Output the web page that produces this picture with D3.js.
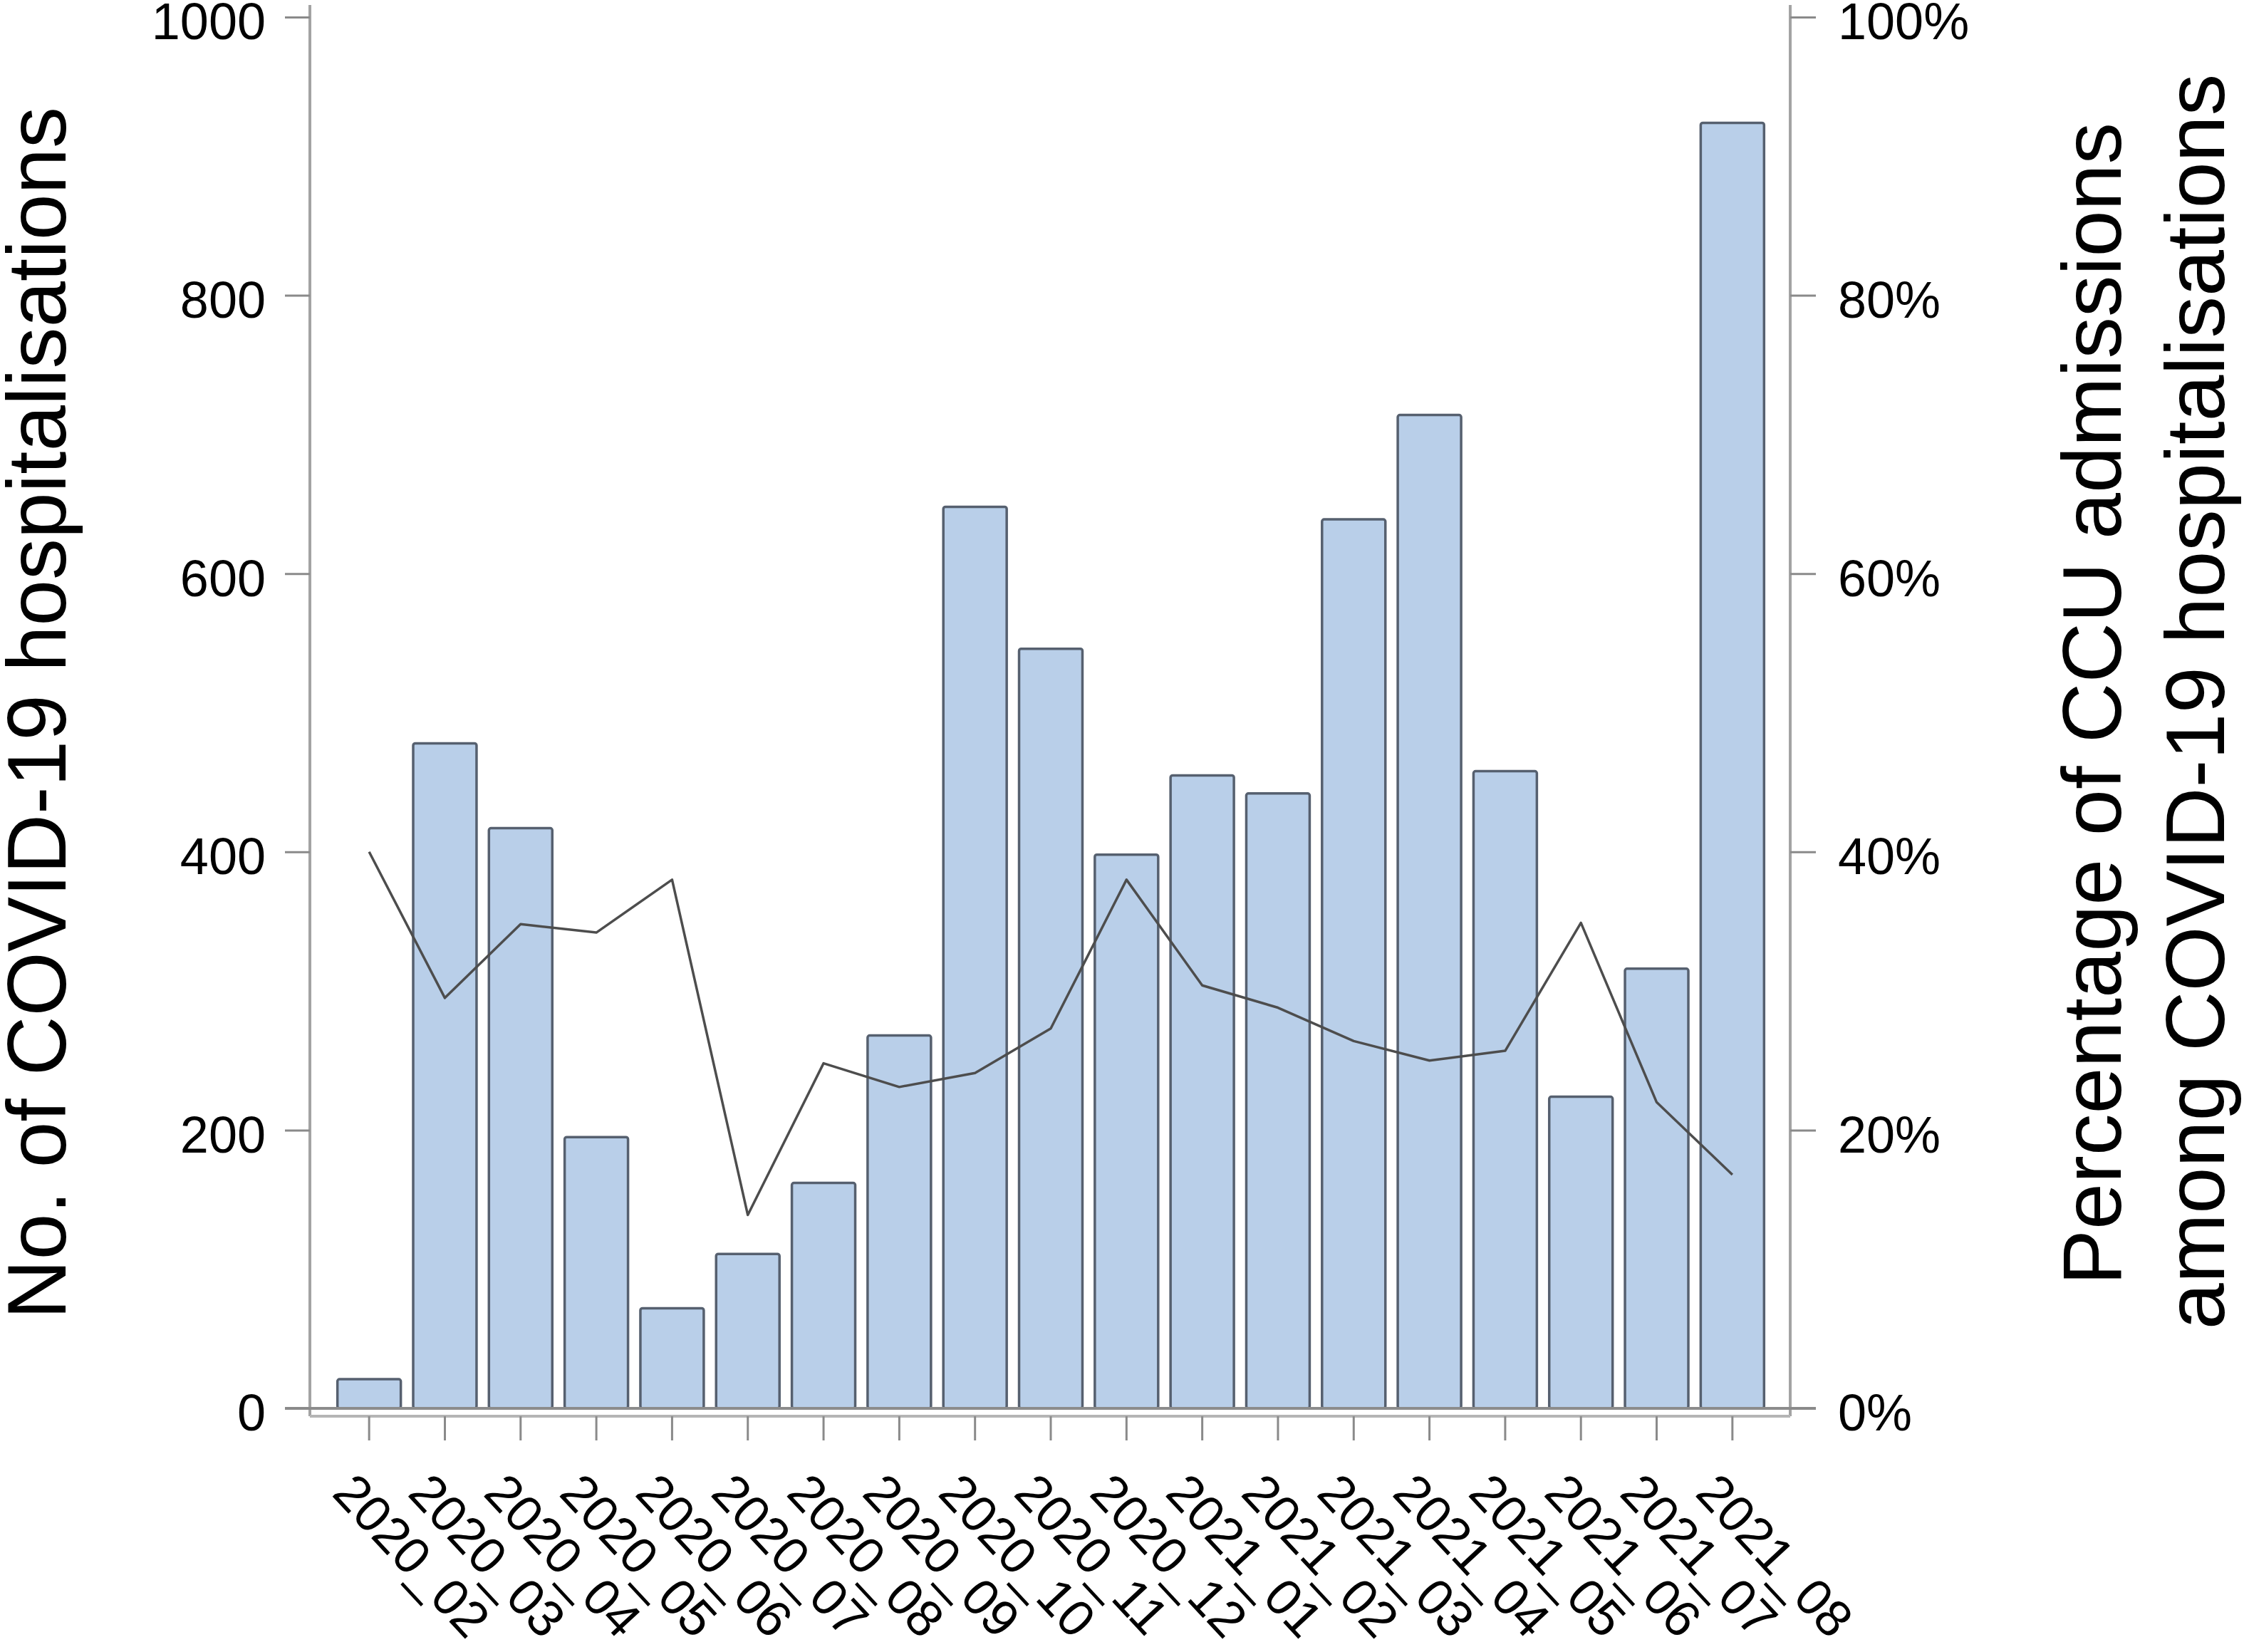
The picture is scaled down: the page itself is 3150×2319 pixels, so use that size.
<!DOCTYPE html>
<html>
<head>
<meta charset="utf-8">
<script src="https://cdn.jsdelivr.net/npm/d3@7"></script>
<style>
    body { margin: 0; background: #fff; }
    svg { display: block; font-family: 'Liberation Sans', Arial, sans-serif; }
</style>
</head>
<body>
<div id="chart"></div>
<script>
// months on the x-axis
const months = [
    '2020_02', '2020_03', '2020_04', '2020_05', '2020_06', '2020_07', '2020_08',
    '2020_09', '2020_10', '2020_11', '2020_12', '2021_01', '2021_02', '2021_03',
    '2021_04', '2021_05', '2021_06', '2021_07', '2021_08'
];
// bars: no. of COVID-19 hospitalisations
const hospitalisations = [21, 478, 417, 195, 72, 111, 162, 268, 648, 546, 398, 455, 442, 639, 714, 458, 224, 316, 924];
// line: % CCU admissions among hospitalisations
const ccuPct = [40.0, 29.5, 34.8, 34.2, 38.0, 13.9, 24.8, 23.1, 24.1, 27.3, 38.0, 30.4, 28.8, 26.4, 25.0, 25.7, 34.9, 22.0, 16.8];

const leftTicks = [0, 200, 400, 600, 800, 1000];
const rightTicks = [0, 20, 40, 60, 80, 100];

const W = 3150;
const H = 2319;

const svg = d3.select('#chart').append('svg').attr('width', W).attr('height', H);
svg.append('rect').attr('width', W).attr('height', H).attr('fill', '#fff');

// plot frame
const left = 435;
const right = 2513;
const frameBottom = 1988;

const x = d3
    .scaleBand()
    .domain(months)
    .range([465, 2485])
    .paddingInner(0.135)
    .paddingOuter(0.0675);

const y = d3.scaleLinear().domain([0, 1000]).range([1977, 24]);
const yR = d3.scaleLinear().domain([0, 100]).range([1977, 24]);

const axisColor = '#a3a3a3';
const tickColor = '#8a8a8a';

// axis lines
svg.append('line')
    .attr('x1', left).attr('x2', left)
    .attr('y1', 7).attr('y2', frameBottom)
    .attr('stroke', axisColor).attr('stroke-width', 4);
svg.append('line')
    .attr('x1', right).attr('x2', right)
    .attr('y1', 7).attr('y2', frameBottom)
    .attr('stroke', axisColor).attr('stroke-width', 4);
svg.append('line')
    .attr('x1', left).attr('x2', right)
    .attr('y1', frameBottom).attr('y2', frameBottom)
    .attr('stroke', '#b5b5b5').attr('stroke-width', 4);

// bars
svg.selectAll('rect.bar')
    .data(months)
    .enter()
    .append('rect')
    .attr('class', 'bar')
    .attr('x', (d) => x(d) + 1.5)
    .attr('y', (d, i) => y(hospitalisations[i]))
    .attr('width', x.bandwidth() - 3)
    .attr('height', (d, i) => y(0) - y(hospitalisations[i]))
    .attr('rx', 3)
    .attr('fill', '#b9cfe9')
    .attr('stroke', '#56606f')
    .attr('stroke-width', 3.5);

// zero line, runs out into both 0 ticks
svg.append('line')
    .attr('x1', left - 35).attr('x2', right + 36)
    .attr('y1', y(0)).attr('y2', y(0))
    .attr('stroke', '#8c8c8c').attr('stroke-width', 4);

// left y-axis
const yAxis = d3
    .axisLeft(y)
    .tickValues(leftTicks)
    .tickFormat(d3.format('d'))
    .tickSize(35)
    .tickPadding(27);
const gy = svg.append('g').attr('transform', `translate(${left}, 0)`).call(yAxis);

// right y-axis
const yAxisR = d3
    .axisRight(yR)
    .tickValues(rightTicks)
    .tickFormat((d) => d + '%')
    .tickSize(36)
    .tickPadding(31);
const gyR = svg.append('g').attr('transform', `translate(${right}, 0)`).call(yAxisR);

// x-axis with slanted month labels
const xAxis = d3.axisBottom(x).tickSize(34);
const gx = svg.append('g').attr('transform', `translate(0, ${frameBottom})`).call(xAxis);
gx.selectAll('text')
    .attr('x', 0)
    .attr('y', 0)
    .attr('dy', 0)
    .attr('transform', 'translate(-54, 110) rotate(47)')
    .style('text-anchor', 'start')
    .style('font-size', '72px');

[gy, gyR, gx].forEach((g) => {
    g.select('.domain').remove();
    g.selectAll('.tick line').attr('stroke', tickColor).attr('stroke-width', 3);
    g.selectAll('text').attr('fill', '#000').style('font-family', "'Liberation Sans', Arial, sans-serif");
});
gy.selectAll('text').attr('dy', '0.43em').style('font-size', '72px');
gyR.selectAll('text').attr('dy', '0.43em').style('font-size', '72px');

// CCU percentage line
const line = d3
    .line()
    .x((d) => x(d) + x.bandwidth() / 2)
    .y((d, i) => yR(ccuPct[i]));

svg.append('path')
    .datum(months)
    .attr('fill', 'none')
    .attr('stroke', '#4d4d4d')
    .attr('stroke-width', 3.5)
    .attr('stroke-linejoin', 'round')
    .attr('d', line);

// axis titles
svg.append('text')
    .attr('transform', 'translate(92, 1001) rotate(-90)')
    .attr('text-anchor', 'middle')
    .style('font-size', '116px')
    .text('No. of COVID-19 hospitalisations');

svg.append('text')
    .attr('transform', 'translate(2977, 988) rotate(-90)')
    .attr('text-anchor', 'middle')
    .style('font-size', '117px')
    .text('Percentage of CCU admissions');

svg.append('text')
    .attr('transform', 'translate(3122, 985) rotate(-90)')
    .attr('text-anchor', 'middle')
    .style('font-size', '117px')
    .text('among COVID-19 hospitalisations');
</script>
</body>
</html>
